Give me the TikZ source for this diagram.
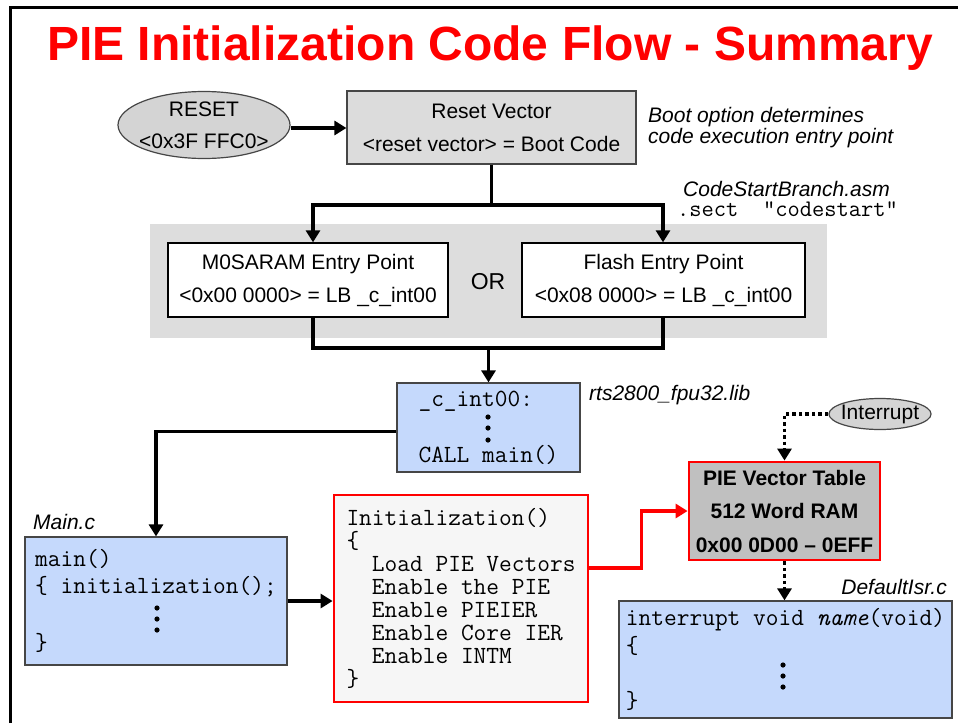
\documentclass[tikz,border=0pt]{standalone}
\usepackage{fontspec}
\setmainfont{Liberation Sans}
\usetikzlibrary{arrows.meta,shapes.geometric}
\definecolor{boxgray}{RGB}{220,220,220}
\definecolor{panelgray}{RGB}{221,221,221}
\definecolor{ellgray}{RGB}{212,212,212}
\definecolor{piegray}{RGB}{192,192,192}
\definecolor{codeblue}{RGB}{197,217,252}
\definecolor{initbg}{RGB}{246,246,246}
\definecolor{bordergray}{RGB}{70,70,70}
\definecolor{pred}{RGB}{255,0,0}
\newcommand{\codeind}{\phantom{xx}}
\begin{document}
\begin{tikzpicture}[x=1pt,y=-1pt,
  box/.style={rectangle, draw=bordergray, line width=1.2pt, inner sep=0pt, align=center},
  grbox/.style={box, fill=boxgray},
  wbox/.style={rectangle, draw=black, line width=1.3pt, fill=white, inner sep=0pt, align=center},
  codebox/.style={rectangle, draw=bordergray, line width=1.2pt, fill=codeblue, align=left, inner sep=0pt},
  ell/.style={ellipse, draw=bordergray, line width=1.2pt, fill=ellgray, align=center},
  lbl/.style={inner sep=0pt, font={\fontsize{21}{18}\selectfont\itshape}},
  line/.style={line width=3.6pt},
  conn/.style={line, -{Triangle[length=12pt,width=14pt]}},
  redconn/.style={conn, draw=pred},
  dotconn/.style={line width=3.2pt, -{Triangle[length=12pt,width=14pt]}, dash pattern=on 3.5pt off 3pt},
  dot/.style={fill=black}
]
\useasboundingbox (0,0) rectangle (958,723);
\fill[white] (0,0) rectangle (958,723);
% slide frame
\draw[line width=3pt] (10,723) -- (10,7) -- (958,7);

% title
\node[inner sep=0pt, anchor=base, text=pred, font={\fontsize{48}{48}\selectfont\bfseries}] (title) at (490,60) {PIE Initialization Code Flow - Summary};

% reset
\node[ell, inner xsep=-4pt, inner ysep=0pt, minimum width=172pt, minimum height=67pt, font={\fontsize{21}{32}\selectfont}] (rst) at (204,125) {RESET\\<0x3F FFC0>};
\node[grbox, minimum width=289pt, minimum height=73pt, font={\fontsize{21}{33}\selectfont}] (rv) at (491.5,127.5) {Reset Vector\\<reset vector> = Boot Code};
\node[lbl, anchor=west, align=left] (boot) at (648,127.5) {Boot option determines\\code execution entry point};

% entry points panel
\node[rectangle, fill=panelgray, minimum width=677pt, minimum height=114pt, inner sep=0pt] (pnl) at (488.5,281) {};
\node[wbox, minimum width=280pt, minimum height=74pt, font={\fontsize{21}{33}\selectfont}] (m0) at (308,280) {M0SARAM Entry Point\\<0x00 0000> = LB \_c\_int00};
\node[wbox, minimum width=283pt, minimum height=74pt, font={\fontsize{21}{33}\selectfont}] (fl) at (663.5,280) {Flash Entry Point\\<0x08 0000> = LB \_c\_int00};
\node[inner sep=0pt, font={\fontsize{23}{23}\selectfont}] (or) at (488,282) {OR};
\node[inner sep=0pt, anchor=base, font={\fontsize{21}{21}\selectfont\itshape}] (csb) at (786.5,196) {CodeStartBranch.asm};
\node[inner sep=0pt, anchor=base west, font={\fontsize{23.8}{24}\selectfont\ttfamily}] (sect) at (677,216.5) {.sect\ \ “codestart”};

% c_int00
\node[codebox, minimum width=183pt, minimum height=89pt, font={\fontsize{24.7}{27}\selectfont\ttfamily}] (ci) at (488.5,427.5) {\_c\_int00:\phantom{xx}\\[29pt]CALL main()};
\foreach \yy in {417,428,440} \fill[dot] (488,\yy) circle[radius=2.6pt];
\node[lbl, anchor=base west] (rts) at (589,400.5) {rts2800\_fpu32.lib};

% main
\node[codebox, minimum width=262pt, minimum height=128pt, font={\fontsize{24.7}{27}\selectfont\ttfamily}] (main) at (156,601) {main()\\\{ initialization();\\[30pt]\}};
\foreach \yy in {608,619,630} \fill[dot] (157,\yy) circle[radius=2.6pt];
\node[lbl, anchor=base west] (mainc) at (33,529) {Main.c};

% initialization
\node[rectangle, draw=pred, line width=2.8pt, fill=initbg, minimum width=254pt, minimum height=207pt, inner sep=0pt, align=left, font={\fontsize{24.7}{22.9}\selectfont\ttfamily}] (init) at (461,598.5) {Initialization()\\\{\\\codeind Load PIE Vectors\\\codeind Enable the PIE\\\codeind Enable PIEIER\\\codeind Enable Core IER\\\codeind Enable INTM\\\}};

% PIE vector table
\node[rectangle, draw=pred, line width=2.8pt, fill=piegray, minimum width=191pt, minimum height=98pt, inner sep=0pt, align=center, font={\fontsize{21}{33.5}\selectfont\bfseries}] (pie) at (784.5,511) {PIE Vector Table\\512 Word RAM\\0x00 0D00 – 0EFF};
\node[ell, inner xsep=-3pt, inner ysep=0pt, minimum width=102pt, minimum height=31pt, font={\fontsize{21}{21}\selectfont}] (intr) at (880,414) {Interrupt};

% ISR
\node[codebox, minimum width=333pt, minimum height=117pt, font={\fontsize{24.7}{28}\selectfont\ttfamily}] (isr) at (785.5,659.5) {interrupt void \textit{name}(void)\\\{\\[27pt]\}};
\foreach \yy in {665,676,687} \fill[dot] (783,\yy) circle[radius=2.6pt];
\node[lbl, anchor=base east] (dis) at (947,594) {DefaultIsr.c};

% connectors
\coordinate (jl) at (313,205);
\coordinate (jr) at (663,205);
\coordinate (bl) at (313,348);
\coordinate (br) at (663,348);
\draw[conn] ([yshift=-3pt]rst.east) -- ([yshift=-3pt]rst.east -| rv.west);
\draw[line] (rv.south) -- (rv.south |- jl);
\draw[line, {Triangle[length=12pt,width=14pt]}-{Triangle[length=12pt,width=14pt]}] (jl |- m0.north) -- (jl) -- (jr) -- (jr |- fl.north);
\draw[line] (jl |- m0.south) -- (bl) -- (br) -- (jr |- fl.south);
\draw[conn] (ci.north |- bl) -- (ci.north);
\draw[conn] ([yshift=-4pt]ci.west) -| (main.north);
\draw[conn] (main.east) -- (main.east -| init.west);
\draw[redconn] ([yshift=30.5pt]init.east) -- ++(52,0) |- (pie.west);
\draw[dotconn] (intr.west) -| (pie.north);
\draw[dotconn] (pie.south) -- (pie.south |- isr.north);
\end{tikzpicture}
\end{document}
